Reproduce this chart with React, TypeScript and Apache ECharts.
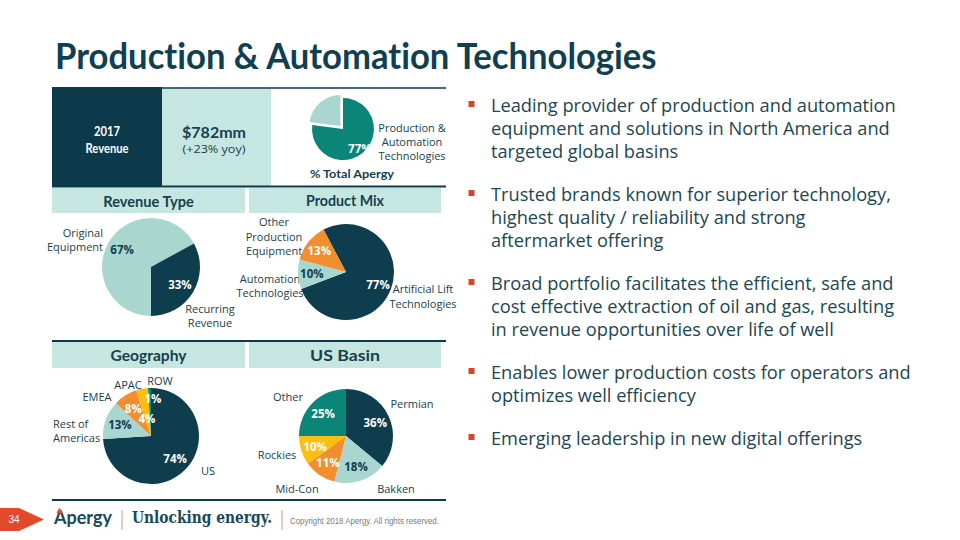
import React, { useEffect, useRef } from 'react';
import * as echarts from 'echarts';

// ---------- data ----------
const titleText = 'Production & Automation Technologies';

const totalNames = ['Production &\nAutomation\nTechnologies', 'Rest of Apergy'];
const totalValues = [77, 23];

const revenueTypeNames = ['Original\nEquipment', 'Recurring\nRevenue'];
const revenueTypeValues = [67, 33];

const productMixNames = ['Artificial Lift\nTechnologies', 'Automation\nTechnologies', 'Other\nProduction\nEquipment'];
const productMixValues = [77, 10, 13];

const geographyNames = ['US', 'Rest of\nAmericas', 'EMEA', 'APAC', 'ROW'];
const geographyValues = [74, 13, 8, 4, 1];

const basinNames = ['Permian', 'Bakken', 'Mid-Con', 'Rockies', 'Other'];
const basinValues = [36, 18, 11, 10, 25];

const sectionTitles = ['Revenue Type', 'Product Mix', 'Geography', 'US Basin'];

const bulletLines = [
  ['Leading provider of production and automation', 'equipment and solutions in North America and', 'targeted global basins'],
  ['Trusted brands known for superior technology,', 'highest quality / reliability and strong', 'aftermarket offering'],
  ['Broad portfolio facilitates the efficient, safe and', 'cost effective extraction of oil and gas, resulting', 'in revenue opportunities over life of well'],
  ['Enables lower production costs for operators and', 'optimizes well efficiency'],
  ['Emerging leadership in new digital offerings'],
];

// ---------- styles ----------
const DARK = '#0e3d4d';
const LIGHT = '#a9d6cf';
const TEAL = '#0b8578';
const ORANGE = '#f28e2e';
const YELLOW = '#fbbf12';
const HEADER_BG = '#c6e6e1';
const TXT = '#173f4d';
const BODY_FONT = '"Open Sans", "DejaVu Sans", sans-serif';
const HEAD_FONT = 'Lato, "Open Sans", sans-serif';

let ctx: CanvasRenderingContext2D | null = null;
function measure(t: string, font: string): number {
  if (!ctx) ctx = document.createElement('canvas').getContext('2d');
  if (!ctx) return 1;
  ctx.font = font;
  return ctx.measureText(t).width || 1;
}

function buildOption() {
  const g: any[] = [];
  const rect = (x: number, y: number, w: number, h: number, fill: string) =>
    g.push({ type: 'rect', silent: true, shape: { x, y, width: w, height: h }, style: { fill } });
  const line = (x1: number, y1: number, x2: number, y2: number, stroke: string, lw: number) =>
    g.push({ type: 'line', silent: true, shape: { x1, y1, x2, y2 }, style: { stroke, lineWidth: lw } });
  const text = (
    t: string, x: number, y: number,
    o: { size: number; weight?: string; family?: string; color?: string; align?: string; va?: string; lh?: number; width?: number; z?: number }
  ) => {
    const family = o.family || BODY_FONT;
    const weight = o.weight || 'normal';
    let scaleX = 1;
    if (o.width) {
      const longest = Math.max(...t.split('\n').map((s) => measure(s, `${weight} ${o.size}px ${family}`)));
      scaleX = o.width / longest;
    }
    g.push({
      type: 'text', silent: true, x, y, scaleX, z: o.z || 0,
      style: {
        text: t, fontSize: o.size, fontWeight: weight, fontFamily: family,
        fill: o.color || TXT, align: o.align || 'center', verticalAlign: o.va || 'middle',
        lineHeight: o.lh || Math.round(o.size * 1.3),
      },
    });
  };

  // title
  text(titleText, 55, 55, { size: 36, weight: 'bold', family: HEAD_FONT, color: '#0f3f50', align: 'left', width: 605 });

  // top band
  rect(52, 89, 110, 97, '#0d3a4a');
  rect(162, 89, 109, 97, HEADER_BG);
  line(52, 88, 162, 88, '#0d3a4a', 2);
  line(162, 88, 446, 88, '#466873', 2);
  text('2017\nRevenue', 107, 139.5, { size: 13, weight: 'bold', family: HEAD_FONT, color: '#ffffff', lh: 17, width: 43 });
  text('$782mm', 214, 132, { size: 16, weight: 'bold', family: HEAD_FONT, color: TXT, width: 64 });
  text('(+23% yoy)', 214, 148, { size: 11, family: BODY_FONT, color: TXT, width: 63 });
  text(totalNames[0], 412, 141.5, { size: 11, lh: 14, color: TXT });
  text('% Total Apergy', 352, 174, { size: 12, weight: 'bold', family: HEAD_FONT, color: TXT, width: 85 });

  // section headers
  line(52, 186.5, 446, 186.5, '#0d3a4a', 2);
  rect(52, 188, 193, 25, HEADER_BG);
  rect(249, 188, 192, 25, HEADER_BG);
  text(sectionTitles[0], 148.5, 200.5, { size: 15, weight: 'bold', family: HEAD_FONT, width: 91 });
  text(sectionTitles[1], 345, 200.5, { size: 15, weight: 'bold', family: HEAD_FONT, width: 78 });

  line(52, 341, 446, 341, '#0d3a4a', 2);
  rect(52, 342, 193, 26, HEADER_BG);
  rect(249, 342, 192, 26, HEADER_BG);
  text(sectionTitles[2], 148.5, 355, { size: 15, weight: 'bold', family: HEAD_FONT, width: 76 });
  text(sectionTitles[3], 345, 355, { size: 15, weight: 'bold', family: HEAD_FONT, width: 70 });

  line(52, 500, 446, 500, '#0d3a4a', 2);

  // pie category labels
  const lab = (t: string, x: number, y: number, align = 'center') =>
    text(t, x, y, { size: 11, lh: 14.5, align, color: TXT });
  lab(revenueTypeNames[0], 103, 239.5, 'right');
  lab(revenueTypeNames[1], 210, 315.5);
  lab(productMixNames[2], 274, 236);
  lab(productMixNames[1], 270, 285.5);
  lab(productMixNames[0], 423, 296);
  lab(geographyNames[0], 208, 470);
  lab(geographyNames[1], 53, 430.5, 'left');
  lab(geographyNames[2], 97, 396);
  lab(geographyNames[3], 128, 384);
  lab(geographyNames[4], 160, 380);
  lab(basinNames[0], 412, 403);
  lab(basinNames[1], 396, 488);
  lab(basinNames[2], 297, 488);
  lab(basinNames[3], 277, 454);
  lab(basinNames[4], 288, 396);

  // value labels of the two thinnest geography slices (placed by hand as in the slide)
  const pctStyle = { size: 11.5, weight: 'bold', family: BODY_FONT, color: '#ffffff', z: 10 };
  text(`${geographyValues[3]}%`, 147, 418, pctStyle);
  text(`${geographyValues[4]}%`, 153, 398, pctStyle);

  // bullets
  const bSize0 = 18;
  const bSize = bSize0 * 405 / measure(bulletLines[0][0], `normal ${bSize0}px ${BODY_FONT}`);
  let y = 105;
  bulletLines.forEach((lines) => {
    rect(468.5, y - 4, 6, 6, '#d9432b');
    text(lines.join('\n'), 491, y - 11.5, { size: bSize, align: 'left', va: 'top', lh: 23, color: '#1b4653' });
    y += lines.length * 23 + 20;
  });

  // footer
  g.push({ type: 'polygon', silent: true, shape: { points: [[0, 508], [19, 508], [44, 519.5], [19, 531], [0, 531]] }, style: { fill: '#e04a2a' } });
  text('34', 14, 519.5, { size: 10, family: '"Liberation Sans", Arial, sans-serif', color: '#ffffff' });
  text('Apergy', 54, 517, { size: 19, weight: 'bold', family: HEAD_FONT, color: '#17495a', align: 'left', width: 58 });
  g.push({ type: 'polygon', silent: true, shape: { points: [[56.5, 513], [59.5, 507.5], [62.5, 513]] }, style: { fill: '#e5532d' } });
  line(122, 510, 122, 530, '#d39a80', 1);
  text('Unlocking energy.', 132, 518, { size: 16, weight: 'bold', family: '"DejaVu Serif", serif', color: '#17495a', align: 'left', width: 140 });
  line(282, 510, 282, 530, '#d39a80', 1);
  text('Copyright 2018 Apergy. All rights reserved.', 290, 521, { size: 9, family: '"Liberation Sans", Arial, sans-serif', color: '#7a7a7a', align: 'left', width: 150 });

  // pies
  const series: any[] = [];
  const pie = (
    id: string, names: string[], values: number[], center: number[], r: number, startAngle: number,
    colors: string[], labelColors: (string | null)[], labelFactor: number, selectedIdx = -1
  ) => {
    series.push({
      type: 'pie', id, center, radius: [0, r], startAngle, clockwise: true, silent: true,
      selectedMode: selectedIdx >= 0 ? 'single' : false, selectedOffset: 4,
      label: { show: false }, labelLine: { show: false },
      data: values.map((v, i) => ({
        name: names[i], value: v, selected: i === selectedIdx,
        itemStyle: { color: colors[i], borderWidth: 0 },
      })),
    });
    series.push({
      type: 'pie', id: id + '-labels', center, radius: [0, r * labelFactor], startAngle, clockwise: true, silent: true,
      z: 5, labelLine: { show: false },
      data: values.map((v, i) => ({
        name: names[i], value: v,
        itemStyle: { color: 'rgba(0,0,0,0)', borderWidth: 0 },
        label: {
          show: !!labelColors[i], position: 'inside', formatter: '{c}%',
          color: labelColors[i] || '#fff', fontSize: 11.5, fontWeight: 'bold', fontFamily: BODY_FONT,
        },
      })),
    });
  };

  pie('total', totalNames, totalValues, [343, 129], 31, 90, [TEAL, LIGHT], ['#ffffff', null], 1.45, 1);
  pie('revtype', revenueTypeNames, revenueTypeValues, [151, 267], 49, -90, [LIGHT, DARK], [DARK, '#ffffff'], 1.25);
  pie('mix', productMixNames, productMixValues, [346, 272], 48, 118, [DARK, LIGHT, ORANGE], ['#ffffff', DARK, '#ffffff'], 1.3);
  pie('geo', geographyNames, geographyValues, [151, 436], 48, 90, [DARK, LIGHT, ORANGE, YELLOW, TEAL], ['#ffffff', DARK, '#ffffff', null, null], 1.25);
  pie('basin', basinNames, basinValues, [346, 436], 47, 90, [DARK, LIGHT, ORANGE, YELLOW, TEAL], ['#ffffff', DARK, '#ffffff', '#ffffff', '#ffffff'], 1.25);

  return {
    animation: false,
    backgroundColor: '#ffffff',
    series,
    graphic: { elements: g },
  };
}

export default function App() {
  const ref = useRef<HTMLDivElement>(null);
  useEffect(() => {
    if (!ref.current) return;
    const chart = echarts.init(ref.current, undefined, { renderer: 'svg' });
    chart.setOption(buildOption() as any);
    return () => chart.dispose();
  }, []);
  return (
    <>
      <style>{'svg text { font-variant-ligatures: none; font-feature-settings: "liga" 0; }'}</style>
      <div
        ref={ref}
        style={{ position: 'absolute', left: 0, top: 0, width: 960, height: 540, background: '#ffffff' }}
      />
    </>
  );
}
